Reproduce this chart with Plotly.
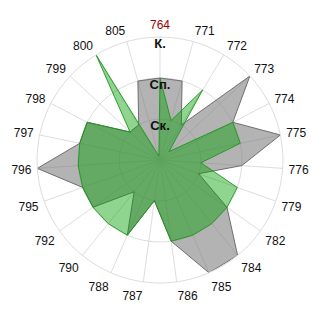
import plotly.graph_objects as go

categories = ["764", "771", "772", "773", "774", "775", "776", "779", "782", "784", "785",
              "786", "787", "788", "790", "792", "795", "796", "797", "798", "799", "800", "805"]
gray_values = [2, 2, 1, 3, 2, 3, 2, 1, 2, 3, 3, 2, 1, 2, 1, 2, 2, 3, 2, 2, 1, 1, 2]
green_values = [2, 1, 2, 0.3, 2, 2, 1, 2, 2, 2, 2, 2, 1, 2, 2, 2, 2, 2, 2, 2, 1, 3, 0.1]
radial_ticks = [1, 2, 3]
radial_labels = ["Ск.", "Сп.", "К."]
highlight = "764"

def closed(vals):
    return list(vals) + [vals[0]]

fig = go.Figure()
fig.add_trace(go.Scatterpolar(
    r=closed(gray_values), theta=closed(categories), mode="lines", fill="toself",
    fillcolor="rgba(128,128,128,0.6)", line=dict(color="rgba(100,100,100,0.9)", width=1),
    hoverinfo="skip", showlegend=False))
fig.add_trace(go.Scatterpolar(
    r=closed(green_values), theta=closed(categories), mode="lines", fill="toself",
    fillcolor="rgba(0,160,0,0.44)", line=dict(color="rgba(30,150,30,0.9)", width=1),
    hoverinfo="skip", showlegend=False))
fig.add_trace(go.Scatterpolar(
    r=[v - 0.2 for v in radial_ticks], theta=[categories[0]] * len(radial_ticks),
    mode="text", text=["<b>%s</b>" % t for t in radial_labels],
    textfont=dict(family="Liberation Sans, Arial", size=13, color="#111"),
    hoverinfo="skip", showlegend=False))

ticktext = ['<span style="color:#9b0000">%s</span>' % c if c == highlight else c for c in categories]

fig.update_layout(
    width=320, height=320,
    margin=dict(l=37, r=37, t=37, b=37),
    paper_bgcolor="white",
    font=dict(family="Liberation Sans, Arial", size=12, color="#111"),
    polar=dict(
        bgcolor="white",
        radialaxis=dict(range=[0, 3], tickvals=radial_ticks, showticklabels=False, ticks="",
                        showline=False, gridcolor="#dddddd", gridwidth=1),
        angularaxis=dict(type="category", categoryarray=categories, direction="clockwise",
                         rotation=90, tickmode="array", tickvals=categories, ticktext=ticktext,
                         ticks="outside", ticklen=3, tickcolor="rgba(0,0,0,0)",
                         showline=True, linecolor="#dddddd", gridcolor="#dddddd",
                         tickfont=dict(size=12, color="#111")),
    ),
)
fig.write_html("out.html")
